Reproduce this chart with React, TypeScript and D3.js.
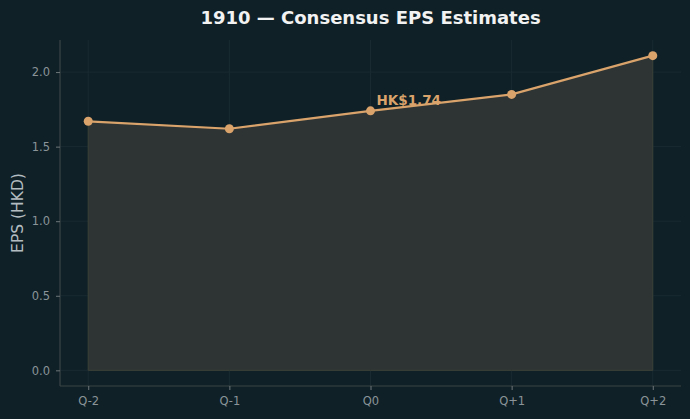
import { useEffect, useRef } from "react";
import * as d3 from "d3";

const quarters = ["Q-2", "Q-1", "Q0", "Q+1", "Q+2"];
const eps = [1.67, 1.62, 1.74, 1.85, 2.11];
const yTicks = [0.0, 0.5, 1.0, 1.5, 2.0];
const highlightIndex = 2;

const W = 690;
const H = 419;
const margin = { top: 40, right: 9, bottom: 33, left: 60 };

export default function App() {
  const ref = useRef<SVGSVGElement>(null);

  useEffect(() => {
    const svg = d3.select(ref.current);
    svg.selectAll("*").remove();

    const x = d3.scaleLinear().domain([-0.2, 4.2]).range([margin.left, W - margin.right]);
    const y = d3.scaleLinear().domain([-0.105, 2.215]).range([H - margin.bottom, margin.top]);

    svg.append("rect").attr("width", W).attr("height", H).attr("fill", "#0f2027");

    // grid
    const grid = svg.append("g").attr("stroke", "#1c2d34").attr("stroke-width", 0.8);
    grid.selectAll(".gx").data(quarters).join("line")
      .attr("x1", (_, i) => x(i)).attr("x2", (_, i) => x(i))
      .attr("y1", margin.top).attr("y2", H - margin.bottom);
    grid.selectAll(".gy").data(yTicks).join("line")
      .attr("x1", margin.left).attr("x2", W - margin.right)
      .attr("y1", d => y(d)).attr("y2", d => y(d));

    // area under the estimates
    const area = d3.area<number>().x((_, i) => x(i)).y0(y(0)).y1(d => y(d));
    svg.append("path").datum(eps).attr("d", area)
      .attr("fill", "#2e3434").attr("stroke", "#3b4137").attr("stroke-width", 1);

    const line = d3.line<number>().x((_, i) => x(i)).y(d => y(d));
    svg.append("path").datum(eps).attr("d", line)
      .attr("fill", "none").attr("stroke", "#d9a36b").attr("stroke-width", 2.2);

    svg.selectAll(".dot").data(eps).join("circle")
      .attr("cx", (_, i) => x(i)).attr("cy", d => y(d)).attr("r", 4.5)
      .attr("fill", "#d9a36b");

    svg.append("text")
      .attr("x", x(highlightIndex) + 6).attr("y", y(eps[highlightIndex]) - 6)
      .attr("fill", "#d9a36b").attr("font-size", 13.5).attr("font-weight", "bold")
      .text(`HK$${eps[highlightIndex].toFixed(2)}`);

    // axes
    const axisColor = "#3a4447";
    const tickText = "#8a9499";
    const xAxis = svg.append("g").attr("transform", `translate(0,${H - margin.bottom})`)
      .call(d3.axisBottom(x).tickValues(d3.range(quarters.length)).tickFormat((d) => quarters[+d]).tickSize(4).tickPadding(7));
    const yAxis = svg.append("g").attr("transform", `translate(${margin.left},0)`)
      .call(d3.axisLeft(y).tickValues(yTicks).tickFormat(d3.format(".1f")).tickSize(4).tickPadding(6));
    [xAxis, yAxis].forEach(a => {
      a.select(".domain").attr("stroke", axisColor).attr("stroke-width", 1.2);
      a.selectAll(".tick line").attr("stroke", "#6e777a");
      a.selectAll(".tick text").attr("fill", tickText).attr("font-size", 11.5)
        .attr("font-family", "DejaVu Sans");
    });
    xAxis.select(".domain").attr("d", `M${margin.left},0H${W - margin.right}`);
    yAxis.select(".domain").attr("d", `M0,${margin.top}V${H - margin.bottom}`);

    svg.append("text")
      .attr("transform", `translate(23,${(margin.top + H - margin.bottom) / 2}) rotate(-90)`)
      .attr("text-anchor", "middle").attr("fill", "#b3bcc0").attr("font-size", 15.5)
      .text("EPS (HKD)");

    svg.append("text")
      .attr("x", (margin.left + W - margin.right) / 2).attr("y", 24)
      .attr("text-anchor", "middle").attr("fill", "#f2f2f2").attr("font-size", 18)
      .attr("font-weight", "bold")
      .text("1910 — Consensus EPS Estimates");
  }, []);

  return (
    <svg ref={ref} width={W} height={H}
      style={{ position: "absolute", left: 0, top: 0, fontFamily: "DejaVu Sans" }} />
  );
}
